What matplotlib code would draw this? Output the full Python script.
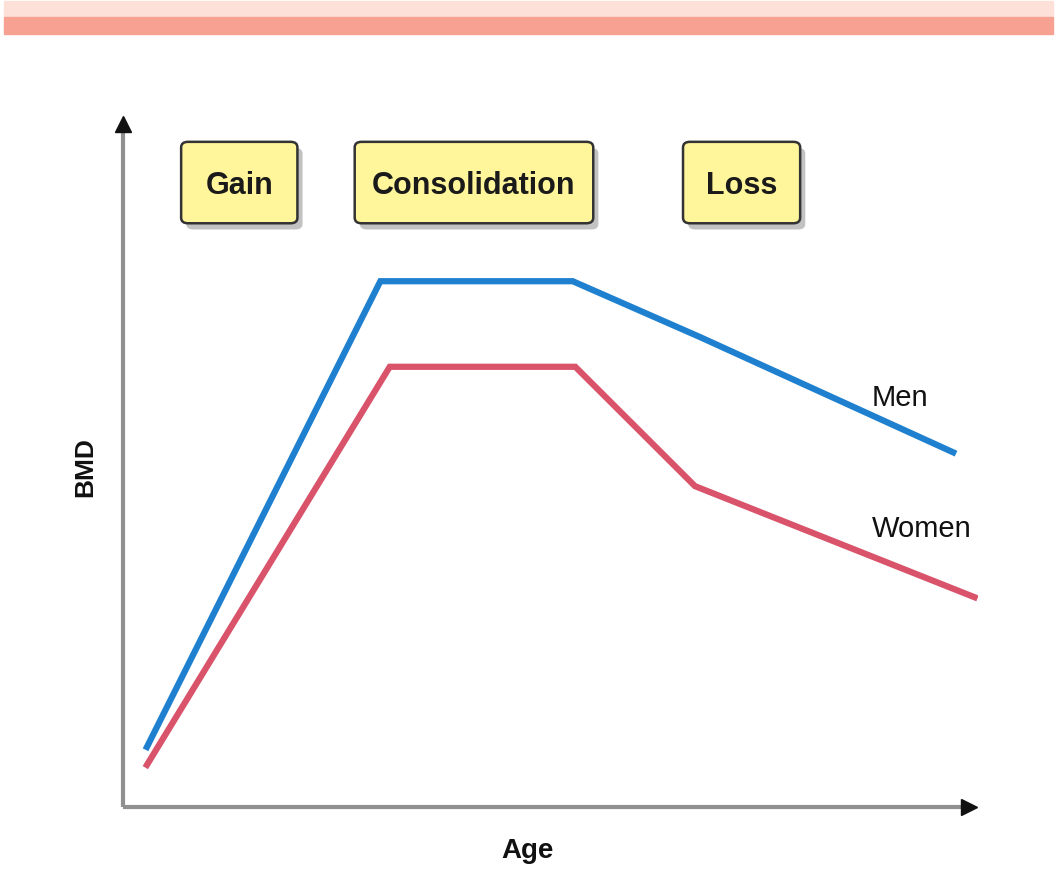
import matplotlib.pyplot as plt
from matplotlib.patches import Rectangle, FancyBboxPatch

# Schematic of bone mineral density over age (arbitrary units 0-100)
men_age = [2.8, 30.1, 52.6, 67.5, 97.1]
men_bmd = [8.7, 76.2, 76.2, 68.1, 51.4]
women_age = [2.8, 31.2, 52.9, 66.9, 99.6]
women_bmd = [6.1, 63.8, 63.8, 46.5, 30.4]

# Phase boxes: label, age start, age end
phases = ['Gain', 'Consolidation', 'Loss']
phase_start = [6.8, 27.1, 65.5]
phase_end = [20.4, 55.0, 79.2]
box_bottom, box_top = 84.6, 96.4

FONT = ['Liberation Sans', 'DejaVu Sans']

W, H = 1057, 879
fig = plt.figure(figsize=(W / 100, H / 100), dpi=100)

# decorative pink bands at the top of the slide
fig.patches.append(Rectangle((4 / W, 1 - 18 / H), 1049 / W, 16 / H,
                             transform=fig.transFigure, color='#fde1d9', zorder=0))
fig.patches.append(Rectangle((4 / W, 1 - 35 / H), 1049 / W, 17 / H,
                             transform=fig.transFigure, color='#f7a193', zorder=0))

ax = fig.add_axes([123 / W, (H - 808) / H, 855 / W, 690 / H])
ax.set_xlim(0, 100)
ax.set_ylim(0, 100)
ax.axis('off')

# axes with arrow heads
ax.plot([0, 0], [0, 99], color='#909090', lw=3, clip_on=False, solid_capstyle='butt')
ax.plot([0, 99], [0, 0], color='#909090', lw=3, clip_on=False, solid_capstyle='butt')
ax.plot([0], [99], marker='^', color='#111111', markersize=12, clip_on=False)
ax.plot([99], [0], marker='>', color='#111111', markersize=12, clip_on=False)

ax.plot(men_age, men_bmd, color='#1f80cf', lw=4.5, solid_joinstyle='miter')
ax.plot(women_age, women_bmd, color='#d9536b', lw=4.5, solid_joinstyle='miter')

ax.text(87.6, 59.4, 'Men', fontsize=21, family=FONT,
        ha='left', va='center', color='#111111')
ax.text(87.6, 40.4, 'Women', fontsize=21, family=FONT,
        ha='left', va='center', color='#111111')

for name, x0, x1 in zip(phases, phase_start, phase_end):
    # soft shadow
    ax.add_patch(FancyBboxPatch((x0 + 0.6, box_bottom - 0.9), x1 - x0, box_top - box_bottom,
                                boxstyle='round,pad=0,rounding_size=0.8',
                                fc='#9a9a9a', ec='none', alpha=0.6, clip_on=False))
    ax.add_patch(FancyBboxPatch((x0, box_bottom), x1 - x0, box_top - box_bottom,
                                boxstyle='round,pad=0,rounding_size=0.8',
                                fc='#fff59a', ec='#333333', lw=1.8, clip_on=False))
    ax.text((x0 + x1) / 2, (box_bottom + box_top) / 2 - 0.4, name, fontsize=22,
            fontweight='bold', family=FONT,
            ha='center', va='center', color='#1a1a1a')

fig.text(528 / W, 1 - 851 / H, 'Age', fontsize=20, fontweight='bold',
         family=FONT, ha='center', va='center', color='#111111')
fig.text(85 / W, 1 - 467 / H, 'BMD', fontsize=19, fontweight='bold', rotation=90,
         family=FONT, ha='center', va='center', color='#111111')

fig.savefig('out.png', dpi=100)
